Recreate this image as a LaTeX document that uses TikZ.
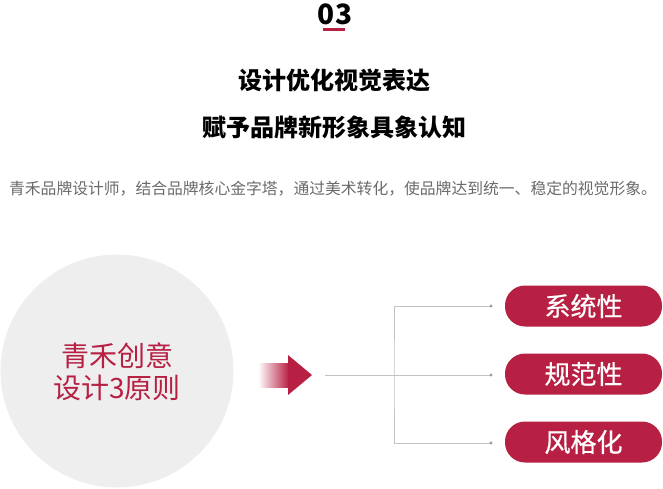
\documentclass[tikz,border=0pt]{standalone}
\usepackage{fontspec}
\setmainfont{Noto Sans CJK SC}
\usepackage{xcolor}
\definecolor{brand}{HTML}{B71F43}
\definecolor{disc}{HTML}{EEEEEE}
\definecolor{wire}{HTML}{C2C2C2}
\definecolor{note}{HTML}{6A6A6A}
\tikzset{
  principle/.style={fill=brand, text=white, rounded corners=20pt, minimum width=157pt, minimum height=41pt, inner sep=0pt, font=\fontsize{26}{30}\selectfont\addfontfeature{FakeBold=0.6}},
  heading/.style={font=\bfseries\fontsize{24}{28}\selectfont},
}

\begin{document}
\begin{tikzpicture}[x=1pt,y=-1pt]
\useasboundingbox (0,0) rectangle (663,488);

\node [font=\bfseries\fontsize{28}{30}\selectfont, inner sep=0pt] (num) at (335,14) {03};
\fill[brand] (323,28) rectangle (345,31);
\node [heading] (t1) at (334,80) {设计优化视觉表达};
\node [heading] (t2) at (334,127) {赋予品牌新形象具象认知};
\node [text=note, font=\fontsize{15.8}{18}\selectfont] (sub) at (333,189) {青禾品牌设计师，结合品牌核心金字塔，通过美术转化，使品牌达到统一、稳定的视觉形象。};

\node [circle, fill=disc, minimum size=233pt, inner sep=0pt] (hub) at (117,371) {};
\node [text=brand, align=center, font=\fontsize{28}{32}\selectfont] (hubtext) at (117,372) {青禾创意\\设计3原则};

% arrow
\shade[left color=white, right color=brand] (258,363) rectangle (289,387);
\fill[brand] (288,355) -- (312,375) -- (288,395) -- cycle;

\coordinate (s) at (325,375);
\coordinate (j) at (394,375);
\coordinate (d1) at (491,306);
\coordinate (d2) at (491,375);
\coordinate (d3) at (491,443);

\node [principle] (p1) at (583.5,306) {系统性};
\node [principle] (p2) at (583.5,374) {规范性};
\node [principle] (p3) at (583.5,442) {风格化};

\draw[wire, line width=1pt] (s) -- (d2);
\draw[wire, line width=1pt] (d1) -| (j) |- (d3);
\foreach \d in {d1,d2,d3}
  \fill[wire!80!black] (\d) circle (1.6);
\end{tikzpicture}
\end{document}
